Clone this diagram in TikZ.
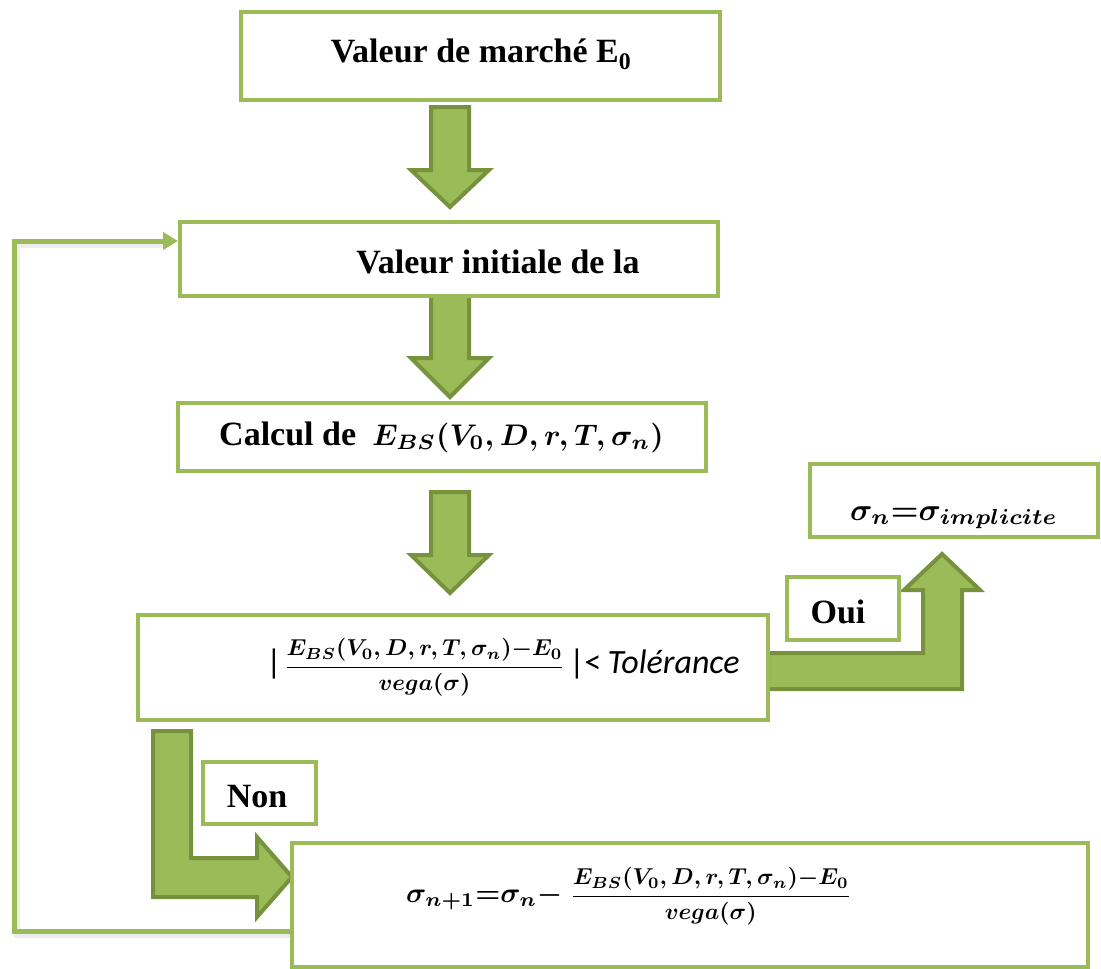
\documentclass[tikz,border=0pt]{standalone}
\usepackage{amsmath}
\usepackage{graphicx}
\usepackage{fontspec}
\setmainfont{Liberation Serif}
\newfontfamily\carlito{Carlito}
\usetikzlibrary{arrows.meta}
\definecolor{boxgreen}{HTML}{9BBB59}
\definecolor{arrowdark}{HTML}{76923C}
\newcommand{\bigsz}{\fontsize{34}{40}\selectfont}
\newcommand{\mth}[2]{\scalebox{#1}{\fontsize{10}{12}\selectfont\boldmath$#2$}}
\newcommand{\tolfrac}{\mth{2.3}{\displaystyle\frac{E_{BS}(V_0,D,r,T,\sigma_n){-}E_0}{vega(\sigma)}}}
\newcommand{\calctext}{Calcul de\hspace{16pt}\mth{2.98}{E_{BS}(V_0,D,r,T,\sigma_n)}}
\newcommand{\toltext}{{\carlito\bigsz\textbar}\hspace{2pt}\tolfrac\hspace{4pt}{\carlito\bigsz\textbar{}<\hspace{6pt}\itshape Tolérance}}
\newcommand{\itertext}{\mth{2.8}{\sigma_{n+1}{=}\sigma_n{-}}\hspace{8pt}\tolfrac}
\newcommand{\impltext}{\mth{3.1}{\sigma_n{=}\sigma_{implicite}}}
\begin{document}
\begin{tikzpicture}[x=1pt,y=-1pt,
 box/.style={draw=boxgreen,line width=4pt,fill=white,rectangle,inner sep=0pt},
 bigarrow/.style={fill=boxgreen,draw=arrowdark,line width=4pt,line join=miter},
 lbl/.style={inner sep=0pt,anchor=base,font=\bigsz\bfseries},
 loopline/.style={draw=boxgreen,line width=5pt,line join=miter},
 loopshadow/.style={draw=black!7,line width=6pt,line join=miter},
]
\useasboundingbox (0,0) rectangle (1101,969);
\coordinate (lo) at (293,931);
\coordinate (li) at (178,241);
\coordinate (c1) at (480.5,56);
\coordinate (c2) at (449,259);
\coordinate (c3) at (442,436.5);
\coordinate (c4) at (453,667.5);
\coordinate (c5) at (690,905);
\coordinate (c6) at (954,500.5);
\coordinate (c7) at (843,608.5);
\coordinate (c8) at (259.5,793);
\draw[loopshadow] (295,935) -- (17,935) -- (17,245) -- (165,245);
\draw[bigarrow] (431,107) -- (469,107) -- (469,170) -- (489,170) -- (450,207) -- (411,170) -- (431,170) -- cycle;
\draw[bigarrow] (431,295) -- (469,295) -- (469,358) -- (489,358) -- (450,397) -- (411,358) -- (431,358) -- cycle;
\draw[bigarrow] (431,492) -- (469,492) -- (469,555) -- (489,555) -- (450,593) -- (411,555) -- (431,555) -- cycle;
\draw[bigarrow] (768,653) -- (923,653) -- (923,590) -- (904,590) -- (942,554) -- (980,590) -- (962,590) -- (962,689) -- (768,689) -- cycle;
\draw[bigarrow] (153,731) -- (191,731) -- (191,858) -- (257,858) -- (257,837) -- (292,877) -- (257,917) -- (257,897) -- (153,897) -- cycle;
\node[box,minimum width=479pt,minimum height=88pt] (B1) at (c1) {};
\node[box,minimum width=538pt,minimum height=74pt] (B2) at (c2) {};
\node[box,minimum width=528pt,minimum height=68pt] (B3) at (c3) {};
\node[box,minimum width=630pt,minimum height=105pt] (B4) at (c4) {};
\node[box,minimum width=796pt,minimum height=124pt] (B5) at (c5) {};
\node[box,minimum width=288pt,minimum height=73pt] (B6) at (c6) {};
\node[box,minimum width=112pt,minimum height=63pt] (B7) at (c7) {};
\node[box,minimum width=113pt,minimum height=62pt] (B8) at (c8) {};
\draw[loopline,-{Triangle[length=15pt,width=17pt]}] (B5.west |- lo) -- (14,931) |- (B2.west |- li);
\node[lbl] (T1) at (481,62) {Valeur de marché E\textsubscript{0}};
\node[lbl] (T2) at (498,273) {Valeur initiale de la};
\node[inner sep=0pt,anchor=base west,font=\bigsz\bfseries] (T3) at (219,445) {\calctext};
\node[inner sep=0pt,anchor=base west] (T4) at (266,673) {\toltext};
\node[inner sep=0pt,anchor=base west] (T5) at (406,902) {\itertext};
\node[inner sep=0pt,anchor=base] (T6) at (954,520) {\impltext};
\node[lbl] (T7) at (838,623) {Oui};
\node[lbl] (T8) at (257,807) {Non};
\end{tikzpicture}
\end{document}
